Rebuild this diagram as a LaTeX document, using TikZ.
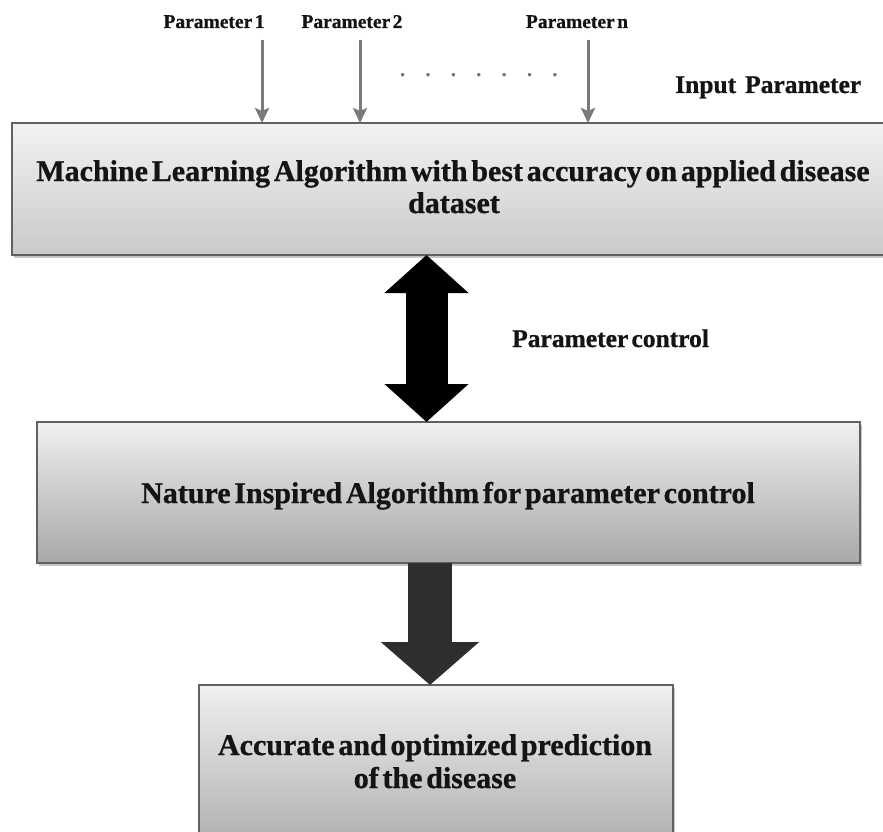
\documentclass[tikz,border=0pt]{standalone}
\usepackage{fontspec}
\setmainfont{Liberation Serif}[WordSpace=0.5, BoldFeatures={FakeBold=0.8}]
\usetikzlibrary{arrows.meta,shadows}

\begin{document}
\begin{tikzpicture}[x=1pt,y=-1pt,
  panel/.style={draw=black!62, line width=1.3pt, inner sep=0pt, outer sep=0pt,
    drop shadow={shadow xshift=2pt, shadow yshift=-2.5pt, opacity=0.45}},
  maintext/.style={font=\fontsize{30}{33}\selectfont\bfseries, inner sep=0pt, text=black!92},
  sidetext/.style={font=\fontsize{25.5}{29}\selectfont\bfseries, inner sep=0pt, text=black!92},
  paramtext/.style={font=\fontsize{19.5}{22}\selectfont\bfseries, inner sep=0pt, text=black!92},
  inarrow/.style={draw=black!52, line width=3pt, -{Stealth[length=15pt,width=14pt,inset=3pt]}},
  blockarrow/.style={line width=#1, line cap=butt}
]
\useasboundingbox (0,0) rectangle (883,832);
\clip (0,0) rectangle (883,832);

% ---- boxes ----
\node[panel, top color=black!5, bottom color=black!21, anchor=north west,
      minimum width=884, minimum height=132] (ml) at (12,123) {};
\node[panel, top color=black!6, bottom color=black!34, anchor=north west,
      minimum width=823, minimum height=141] (nia) at (37,422) {};
\node[panel, top color=black!6, bottom color=black!32, anchor=north west,
      minimum width=474, minimum height=165] (acc) at (199,685) {};

% ---- box texts ----
\node[maintext, anchor=base] (mlA) at (453,181) {Machine Learning Algorithm with best accuracy on applied disease};
\node[maintext, anchor=base] (mlB) at (454,213) {dataset};
\node[maintext, anchor=base] (niaA) at (448,503) {Nature Inspired Algorithm for parameter control};
\node[maintext, anchor=base] (accA) at (435,755) {Accurate and optimized prediction};
\node[maintext, anchor=base] (accB) at (435,788) {of the disease};

% ---- input parameters ----
\node[paramtext, anchor=base] (par1) at (214,28) {Parameter 1};
\node[paramtext, anchor=base] (par2) at (352,28) {Parameter 2};
\node[paramtext, anchor=base] (parn) at (577,28) {Parameter n};
\coordinate (in1) at (262,40);
\coordinate (in2) at (360,40);
\coordinate (inn) at (588,40);
\draw[inarrow] (in1) -- (in1 |- ml.north);
\draw[inarrow] (in2) -- (in2 |- ml.north);
\draw[inarrow] (inn) -- (inn |- ml.north);
\node[paramtext, text=black!55, anchor=base west] (dots) at (400,76)
  {.\hspace{20.5pt}.\hspace{20.5pt}.\hspace{20.5pt}.\hspace{20.5pt}.\hspace{20.5pt}.\hspace{20.5pt}.};
\node[sidetext, anchor=base west] (inlab) at (675,93) {Input\hspace{9pt}Parameter};

% ---- parameter control (two-way) ----
\coordinate (pcx) at (426.5,0);
\draw[blockarrow=42pt, draw=black,
  {Triangle[length=38pt 0 0,width=82pt 0 0]}-{Triangle[length=38pt 0 0,width=82pt 0 0]}]
  (pcx |- ml.south) -- (pcx |- nia.north);
\node[sidetext, anchor=base west] (pclab) at (512,347) {Parameter control};

% ---- result arrow ----
\coordinate (dax) at (430,0);
\draw[blockarrow=44pt, draw=black!82,
  -{Triangle[length=43pt 0 0,width=96pt 0 0]}]
  (dax |- nia.south) -- (dax |- acc.north);
\end{tikzpicture}
\end{document}
